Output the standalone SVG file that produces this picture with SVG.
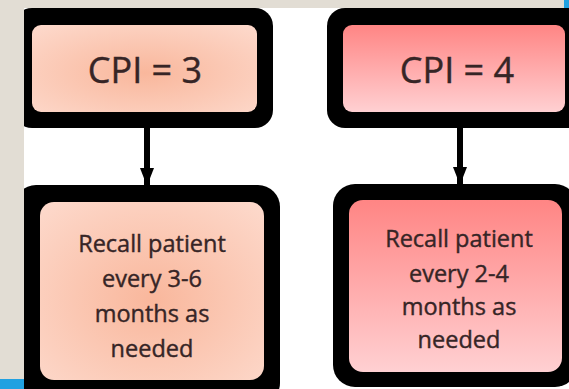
<svg xmlns="http://www.w3.org/2000/svg" width="569" height="389" viewBox="0 0 569 389">
<defs>
<radialGradient id="peach" cx="0.5" cy="0.55" r="0.7">
<stop offset="0" stop-color="#f9b79c"/>
<stop offset="1" stop-color="#fdd8ca"/>
</radialGradient>
<linearGradient id="pink" x1="0" y1="0" x2="0" y2="1">
<stop offset="0" stop-color="#ff8584"/>
<stop offset="1" stop-color="#ffd0d2"/>
</linearGradient>
<marker id="arrow" viewBox="0 0 18 14" refX="18" refY="7" markerWidth="18" markerHeight="14" markerUnits="userSpaceOnUse" orient="auto">
<path d="M0,0 L18,7 L0,14 Z" fill="#000"/>
</marker>
<style>
.outer{fill:#000}
.lbl{font-family:"Open Sans","Liberation Sans",sans-serif;fill:#362526;stroke:#362526;stroke-width:0.4;text-anchor:middle}
.big{font-size:36px}
.small{font-size:23.5px}
.conn{stroke:#000;stroke-width:6;fill:none}
</style>
</defs>
<rect width="569" height="389" fill="#fff"/>
<g id="cpi3">
<rect class="outer" x="14" y="8" width="259" height="120" rx="18"/>
<rect x="32" y="25" width="225" height="87" rx="9" fill="url(#peach)"/>
<text class="lbl big" x="145" y="83">CPI = 3</text>
</g>
<g id="cpi4">
<rect class="outer" x="327" y="8" width="258" height="120" rx="18"/>
<rect x="343" y="25" width="222" height="87" rx="9" fill="url(#pink)"/>
<text class="lbl big" x="457" y="83">CPI = 4</text>
</g>
<g id="recall3">
<rect class="outer" x="14" y="185" width="266" height="220" rx="22"/>
<rect x="40" y="202" width="224" height="178" rx="14" fill="url(#peach)"/>
<text class="lbl small" x="152" y="252">Recall patient</text>
<text class="lbl small" x="152" y="287">every 3-6</text>
<text class="lbl small" x="152" y="322">months as</text>
<text class="lbl small" x="152" y="357">needed</text>
</g>
<g id="recall4">
<rect class="outer" x="333" y="184" width="244" height="203" rx="22"/>
<rect x="349" y="200" width="213" height="172" rx="14" fill="url(#pink)"/>
<text class="lbl small" x="459" y="247">Recall patient</text>
<text class="lbl small" x="459" y="282">every 2-4</text>
<text class="lbl small" x="459" y="315">months as</text>
<text class="lbl small" x="459" y="348">needed</text>
</g>
<g id="connectors">
<line class="conn" x1="147" y1="128" x2="147" y2="186" marker-end="url(#arrow)"/>
<line class="conn" x1="460" y1="128" x2="460" y2="185" marker-end="url(#arrow)"/>
</g>
<rect x="0" y="0" width="569" height="8" fill="#e2ddd4"/>
<rect x="0" y="0" width="24" height="389" fill="#e2ddd4"/>
<rect x="0" y="379" width="24" height="10" fill="#21a1e1"/>
<rect x="564" y="0" width="5" height="8" fill="#21a1e1"/>
</svg>
